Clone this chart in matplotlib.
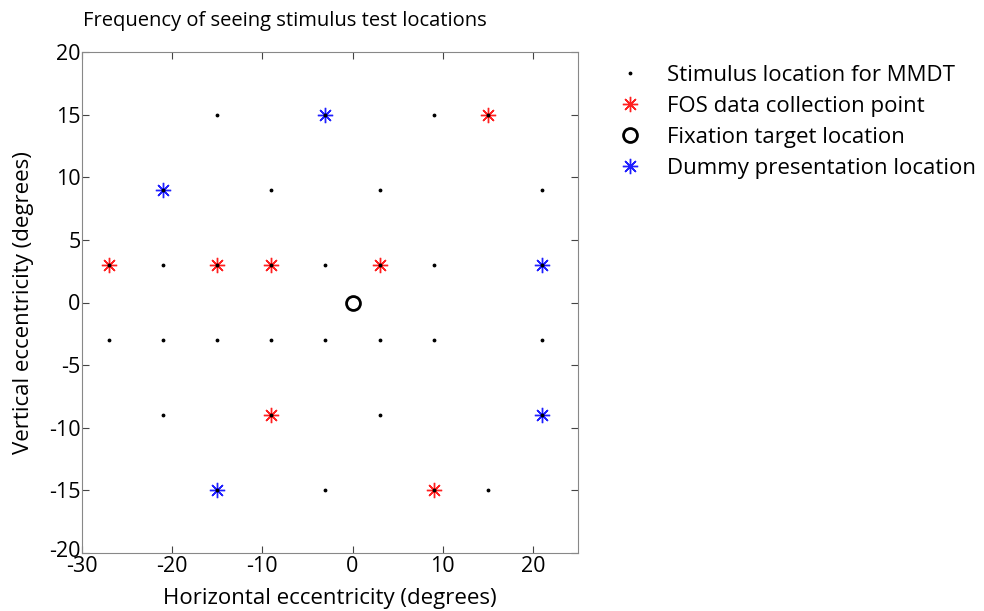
import matplotlib.pyplot as plt
import matplotlib.transforms as mtransforms

# stimulus locations (MMDT grid), degrees
stim_x = [-15, -3, 9, 15,
          -21, -9, 3, 21,
          -27, -21, -15, -9, -3, 3, 9, 21,
          -27, -21, -15, -9, -3, 3, 9, 21,
          -21, -9, 3, 21,
          -15, -3, 9, 15]
stim_y = [15, 15, 15, 15,
          9, 9, 9, 9,
          3, 3, 3, 3, 3, 3, 3, 3,
          -3, -3, -3, -3, -3, -3, -3, -3,
          -9, -9, -9, -9,
          -15, -15, -15, -15]

# FOS data collection points
fos_x = [15, -27, -15, -9, 3, -9, 9]
fos_y = [15, 3, 3, 3, 3, -9, -15]

# fixation target
fix_x = [0]
fix_y = [0]

# dummy presentation locations
dummy_x = [-3, -21, 21, 21, -15]
dummy_y = [15, 9, 3, -9, -15]

plt.rcParams['font.family'] = ['Open Sans', 'DejaVu Sans']
plt.rcParams['axes.unicode_minus'] = False

fig = plt.figure(figsize=(9.84, 6.11), dpi=100)
ax = fig.add_axes([82 / 984, 1 - 553 / 611, 496 / 984, 501 / 611])

asterisk = (8, 2, 0)
h_stim, = ax.plot(stim_x, stim_y, '.', color='black', markersize=3.5, zorder=4,
                  label='Stimulus location for MMDT')
h_fos, = ax.plot(fos_x, fos_y, linestyle='none', marker=asterisk, color='#ff2020',
                 markersize=11, markeredgewidth=1.0, zorder=3,
                 label='FOS data collection point')
h_fix, = ax.plot(fix_x, fix_y, 'o', markerfacecolor='none', markeredgecolor='black',
                 markersize=10, markeredgewidth=2, zorder=3,
                 label='Fixation target location')
h_dum, = ax.plot(dummy_x, dummy_y, linestyle='none', marker=asterisk, color='#2020ff',
                 markersize=11, markeredgewidth=1.0, zorder=3,
                 label='Dummy presentation location')

ax.set_xlim(-30, 25)
ax.set_ylim(-20, 20)
ax.set_xticks([-30, -20, -10, 0, 10, 20])
ax.set_yticks([-20, -15, -10, -5, 0, 5, 10, 15, 20])
ax.tick_params(direction='in', top=True, right=True, labelsize=15.5, length=5,
               color='#444444', pad=1)
ax.tick_params(axis='x', pad=2)
for s in ax.spines.values():
    s.set_color('#888888')

# lift the bottom y label a little so it sits above "-30", like the original
lbl = ax.get_yticklabels()[0]
lbl.set_transform(lbl.get_transform() +
                  mtransforms.ScaledTranslation(0, 4 / 100, fig.dpi_scale_trans))

ax.set_xlabel('Horizontal eccentricity (degrees)', fontsize=16, labelpad=8)
ax.set_ylabel('Vertical eccentricity (degrees)', fontsize=16, labelpad=11)
ax.set_title('Frequency of seeing stimulus test locations', fontsize=14.5, pad=19,
             x=(285 - 82) / 496)

fig.legend(handles=[h_stim, h_fos, h_fix, h_dum], loc='upper left',
           bbox_to_anchor=(596 / 984, 1 - 45 / 611), frameon=False,
           fontsize=16, handlelength=1.3, handletextpad=1.0, labelspacing=0.45)

fig.savefig('out.png', dpi=100)
